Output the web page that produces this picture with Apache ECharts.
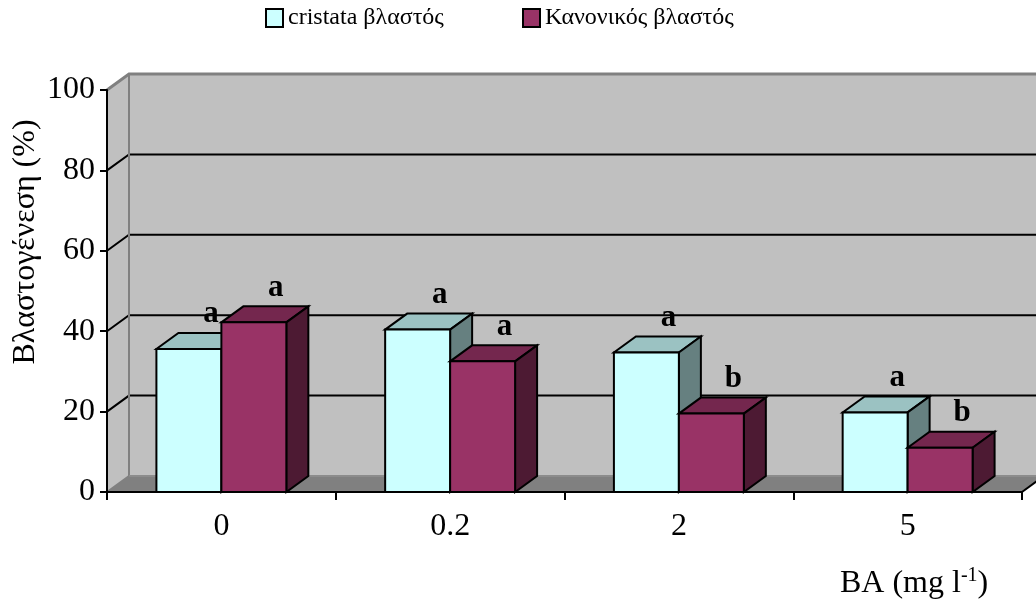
<!DOCTYPE html>
<html>
<head>
<meta charset="utf-8">
<title>Βλαστογένεση</title>
<script src="https://cdn.jsdelivr.net/npm/echarts@6/dist/echarts.min.js"></script>
<style>
  html, body { margin: 0; padding: 0; background: #fff; }
  #chart { width: 1036px; height: 603px; }
</style>
</head>
<body>
<div id="chart"></div>
<script>
// BA concentrations on the category axis
const categories = ['0', '0.2', '2', '5'];
// shoot formation (%) per shoot type
const cristata = [35.6, 40.4, 34.7, 19.8];
const kanonikos = [42.2, 32.5, 19.5, 11.0];
// significance letters shown above each bar
const cristataLetters = ['a', 'a', 'a', 'a'];
const kanonikosLetters = ['a', 'a', 'b', 'b'];
// value axis range
const yMin = 0, yMax = 100, yStep = 20;

const SERIF = "'Liberation Serif', 'Times New Roman', serif";
// oblique depth of the 3D box (pixels)
const DX = 22, DY = -16;
const BAR_RATIO = 0.284;

const chart = echarts.init(document.getElementById('chart'), null, { renderer: 'canvas' });

// back wall, side wall, floor and the wall gridlines
function renderWalls(params, api) {
  const cs = params.coordSys;
  const x0 = cs.x, x1 = cs.x + cs.width;
  const yb = api.coord([0, yMin])[1];
  const yt = api.coord([0, yMax])[1];
  const wallStroke = { stroke: '#808080', lineWidth: 2 };
  const children = [
    { type: 'polygon', shape: { points: [[x0 + DX, yt + DY], [x1 + DX, yt + DY], [x1 + DX, yb + DY], [x0 + DX, yb + DY]] },
      style: { fill: '#C0C0C0' } },
    { type: 'polygon', shape: { points: [[x0, yt], [x0 + DX, yt + DY], [x0 + DX, yb + DY], [x0, yb]] },
      style: { fill: '#C0C0C0' } },
    { type: 'polygon', shape: { points: [[x0, yb], [x1, yb], [x1 + DX, yb + DY], [x0 + DX, yb + DY]] },
      style: { fill: '#808080' } }
  ];
  for (let v = yMin + yStep; v < yMax; v += yStep) {
    const y = api.coord([0, v])[1];
    children.push({ type: 'polyline', shape: { points: [[x0, y], [x0 + DX, y + DY], [x1 + DX, y + DY]] },
      style: { stroke: '#000', lineWidth: 2, fill: null } });
  }
  children.push(
    { type: 'polyline', shape: { points: [[x0, yt], [x0 + DX, yt + DY], [x1 + DX, yt + DY]] },
      style: { stroke: '#808080', lineWidth: 3, fill: null } },
    { type: 'line', shape: { x1: x0 + DX, y1: yt + DY, x2: x0 + DX, y2: yb + DY }, style: wallStroke },
    { type: 'line', shape: { x1: x0 + DX, y1: yb + DY, x2: x1 + DX, y2: yb + DY }, style: { stroke: '#8C8C8C', lineWidth: 2 } },
    { type: 'line', shape: { x1: x0, y1: yb, x2: x0 + DX, y2: yb + DY }, style: wallStroke },
    { type: 'line', shape: { x1: x1, y1: yb, x2: x1 + DX, y2: yb + DY }, style: { stroke: '#000', lineWidth: 2 } }
  );
  return { type: 'group', children: children };
}

// a 3D box bar: front face, top face, right face and its letter
function barRenderer(side, letters, colors) {
  return function (params, api) {
    const i = api.value(0), v = api.value(1);
    const top = api.coord([i, v]);
    const base = api.coord([i, 0]);
    const band = api.size([1, 0])[0];
    const w = band * BAR_RATIO;
    const xl = side < 0 ? top[0] - w : top[0];
    const xr = xl + w;
    const yt = top[1], yb = base[1];
    const edge = { stroke: '#000', lineWidth: 2, lineJoin: 'miter' };
    return {
      type: 'group',
      children: [
        { type: 'polygon', shape: { points: [[xl, yt], [xr, yt], [xr + DX, yt + DY], [xl + DX, yt + DY]] },
          style: Object.assign({ fill: colors.top }, edge) },
        { type: 'polygon', shape: { points: [[xr, yt], [xr + DX, yt + DY], [xr + DX, yb + DY], [xr, yb]] },
          style: Object.assign({ fill: colors.side }, edge) },
        { type: 'rect', shape: { x: xl, y: yt, width: w, height: yb - yt },
          style: Object.assign({ fill: colors.front }, edge) },
        { type: 'text', x: xl + w / 2 + DX, y: yt + DY - 3,
          style: { text: letters[params.dataIndex], fontFamily: SERIF, fontSize: 31, fontWeight: 'bold',
                   fill: '#000', align: 'center', verticalAlign: 'bottom' } }
      ]
    };
  };
}

const cyanColors = { front: '#CCFFFF', top: '#9BC2C2', side: '#668080' };
const maroonColors = { front: '#993366', top: '#74274E', side: '#4D1A33' };

const legendBase = {
  top: 6, padding: 0, icon: 'rect', itemWidth: 17, itemHeight: 18, selectedMode: false,
  textStyle: { fontFamily: SERIF, fontSize: 24, color: '#000', padding: [3, 0, 0, 0] }
};

const option = {
  animation: false,
  backgroundColor: '#fff',
  legend: [
    Object.assign({ left: 265,
      data: [{ name: 'cristata βλαστός', itemStyle: { color: '#CCFFFF', borderColor: '#000', borderWidth: 2 } }] }, legendBase),
    Object.assign({ left: 522,
      data: [{ name: 'Κανονικός βλαστός', itemStyle: { color: '#993366', borderColor: '#000', borderWidth: 2 } }] }, legendBase)
  ],
  grid: { left: 107, right: 14, top: 90, bottom: 111, containLabel: false },
  xAxis: {
    type: 'category',
    data: categories,
    z: 10,
    axisLine: { lineStyle: { color: '#000', width: 2 } },
    axisTick: { show: true, length: 8, lineStyle: { color: '#000', width: 2 } },
    axisLabel: { fontFamily: SERIF, fontSize: 32, color: '#000', margin: 19 },
    splitLine: { show: false }
  },
  yAxis: {
    type: 'value',
    min: yMin, max: yMax, interval: yStep,
    z: 10,
    axisLine: { show: true, lineStyle: { color: '#000', width: 2 } },
    axisTick: { show: true, length: 7, lineStyle: { color: '#000', width: 2 } },
    axisLabel: { fontFamily: SERIF, fontSize: 32, color: '#000', margin: 12 },
    splitLine: { show: false }
  },
  graphic: [
    {
      // value axis title
      type: 'text', x: 26, y: 242, rotation: Math.PI / 2, silent: true,
      style: { text: 'Βλαστογένεση (%)', fontFamily: SERIF, fontSize: 32, fill: '#000',
               align: 'center', verticalAlign: 'middle' }
    },
    {
      // category axis title
      type: 'text', left: 840, top: 566, silent: true,
      style: {
        text: '{n|BA (mg l}{s|-1}{n|)}',
        rich: {
          n: { fontFamily: SERIF, fontSize: 32, lineHeight: 36, fill: '#000' },
          s: { fontFamily: SERIF, fontSize: 20, lineHeight: 26, verticalAlign: 'top', fill: '#000' }
        }
      }
    }
  ],
  series: [
    { type: 'custom', name: 'walls', z: 1, silent: true, renderItem: renderWalls, data: [[0, 0]] },
    {
      type: 'custom', name: 'cristata βλαστός', z: 2,
      itemStyle: { color: '#CCFFFF' },
      renderItem: barRenderer(-1, cristataLetters, cyanColors),
      data: cristata.map((v, i) => [i, v])
    },
    {
      type: 'custom', name: 'Κανονικός βλαστός', z: 3,
      itemStyle: { color: '#993366' },
      renderItem: barRenderer(1, kanonikosLetters, maroonColors),
      data: kanonikos.map((v, i) => [i, v])
    }
  ]
};

chart.setOption(option);
</script>
</body>
</html>
